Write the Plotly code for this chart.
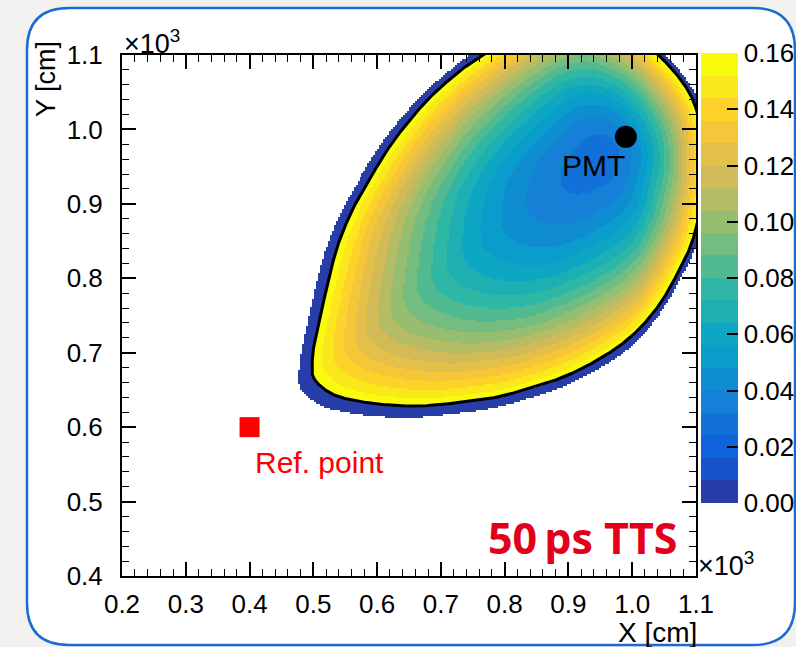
import numpy as np
import plotly.graph_objects as go

# ---------------------------------------------------------------------------
# Data (coordinates in units of 10^3 cm)
# ---------------------------------------------------------------------------
PMT_X = [0.99]
PMT_Y = [0.99]
REF_X = [0.40]
REF_Y = [0.60]

# Minimum of the resolution map and the colour-scale range
MAP_CENTER_X = 0.955
MAP_CENTER_Y = 0.965
MAP_MIN_VALUE = 0.028
MAP_MAX_VALUE = 0.16
MAP_EXPONENT = 1.85
SHAPE_EXPONENT = 1.0        # how fast the levels take the outer contour shape
UNDERFLOW_RING = 1.045      # relative width of the ring drawn below the scale

# Outer 0.16 contour (closed, counter-clockwise)
BOUNDARY_X = [1.113, 1.0964, 1.0446, 0.980, 0.900, 0.7652, 0.7259, 0.6835,
              0.6474, 0.6160, 0.5846, 0.5611, 0.5375, 0.5155, 0.4998, 0.4983,
              0.4998, 0.5265, 0.5783, 0.6600, 0.7353, 0.7887, 0.8405, 0.8923,
              0.9457, 0.9975, 1.0399, 1.0713, 1.0964]
BOUNDARY_Y = [0.945, 1.0369, 1.0973, 1.140, 1.160, 1.1000, 1.0758, 1.0436,
              1.0086, 0.9724, 0.9280, 0.8917, 0.8420, 0.7668, 0.7037, 0.6902,
              0.6674, 0.6459, 0.6338, 0.6284, 0.6338, 0.6405, 0.6526, 0.6674,
              0.6902, 0.7211, 0.7614, 0.8071, 0.8555]

X_TICKS = [0.2, 0.3, 0.4, 0.5, 0.6, 0.7, 0.8, 0.9, 1.0, 1.1]
Y_TICKS = [0.4, 0.5, 0.6, 0.7, 0.8, 0.9, 1.0, 1.1]
Z_TICKS = [0.00, 0.02, 0.04, 0.06, 0.08, 0.10, 0.12, 0.14, 0.16]
N_LEVELS = 20

# ---------------------------------------------------------------------------
# ROOT "kBird" palette, stepped into N_LEVELS contour colours
# ---------------------------------------------------------------------------
BIRD_STOPS = [0.0, 0.125, 0.25, 0.375, 0.5, 0.625, 0.75, 0.875, 1.0]
BIRD_R = [0.2082, 0.0592, 0.0780, 0.0232, 0.1802, 0.5301, 0.8186, 0.9956, 0.9764]
BIRD_G = [0.1664, 0.3599, 0.5041, 0.6419, 0.7178, 0.7492, 0.7328, 0.7862, 0.9832]
BIRD_B = [0.5293, 0.8684, 0.8385, 0.7914, 0.6425, 0.4662, 0.3499, 0.1968, 0.0539]


def bird(f):
    r = np.interp(f, BIRD_STOPS, BIRD_R)
    g = np.interp(f, BIRD_STOPS, BIRD_G)
    b = np.interp(f, BIRD_STOPS, BIRD_B)
    return "rgb(%d,%d,%d)" % (round(r * 255), round(g * 255), round(b * 255))


colorscale = []
for i in range(N_LEVELS):
    idx = int((i + 0.99) * 255 / N_LEVELS)
    col = bird(min(idx, 254) / 254.0)
    colorscale.append([i / N_LEVELS, col])
    colorscale.append([(i + 1) / N_LEVELS, col])


# ---------------------------------------------------------------------------
# Smooth closed contour (centripetal Catmull-Rom) and its polar radius
# ---------------------------------------------------------------------------
def catmull_rom_closed(xs, ys, n_per=60, alpha=0.5):
    P = np.column_stack([xs, ys]).astype(float)
    N = len(P)
    out = []
    for i in range(N):
        p0, p1, p2, p3 = P[(i - 1) % N], P[i], P[(i + 1) % N], P[(i + 2) % N]
        t0 = 0.0
        t1 = t0 + np.linalg.norm(p1 - p0) ** alpha
        t2 = t1 + np.linalg.norm(p2 - p1) ** alpha
        t3 = t2 + np.linalg.norm(p3 - p2) ** alpha
        t = np.linspace(t1, t2, n_per, endpoint=False)[:, None]
        a1 = (t1 - t) / (t1 - t0) * p0 + (t - t0) / (t1 - t0) * p1
        a2 = (t2 - t) / (t2 - t1) * p1 + (t - t1) / (t2 - t1) * p2
        a3 = (t3 - t) / (t3 - t2) * p2 + (t - t2) / (t3 - t2) * p3
        b1 = (t2 - t) / (t2 - t0) * a1 + (t - t0) / (t2 - t0) * a2
        b2 = (t3 - t) / (t3 - t1) * a2 + (t - t1) / (t3 - t1) * a3
        out.append((t2 - t) / (t2 - t1) * b1 + (t - t1) / (t2 - t1) * b2)
    c = np.vstack(out)
    return np.append(c[:, 0], c[0, 0]), np.append(c[:, 1], c[0, 1])


cx, cy = catmull_rom_closed(BOUNDARY_X, BOUNDARY_Y)
c_theta = np.degrees(np.arctan2(cy - MAP_CENTER_Y, cx - MAP_CENTER_X)) % 360
c_rad = np.hypot(cx - MAP_CENTER_X, cy - MAP_CENTER_Y)
order = np.argsort(c_theta)
c_theta, c_rad = c_theta[order], c_rad[order]


def contour_radius(theta_deg):
    return np.interp(np.mod(theta_deg, 360), c_theta, c_rad, period=360)


# Low-pass version of the contour: shape of the innermost levels
theta_u = np.arange(0.0, 360.0, 0.5)
spec = np.fft.rfft(contour_radius(theta_u))
spec[6:] = 0.0
smooth_u = np.fft.irfft(spec, n=theta_u.size)


def smooth_radius(theta_deg):
    return np.interp(np.mod(theta_deg, 360), theta_u, smooth_u, period=360)


# ---------------------------------------------------------------------------
# 2D map on a fine binning: level s has radius s*[(1-s^k) Rin + s^k Rout]
# ---------------------------------------------------------------------------
NX, NY = 290, 260
xe = np.linspace(X_TICKS[0], X_TICKS[-1], NX + 1)
ye = np.linspace(Y_TICKS[0], Y_TICKS[-1], NY + 1)
xc = 0.5 * (xe[:-1] + xe[1:])
yc = 0.5 * (ye[:-1] + ye[1:])
XX, YY = np.meshgrid(xc, yc)
dx = XX - MAP_CENTER_X
dy = YY - MAP_CENTER_Y
rr = np.hypot(dx, dy)
th = np.degrees(np.arctan2(dy, dx))
r_out = contour_radius(th)
r_in = smooth_radius(th)
q_outer = rr / r_out

lo = np.zeros_like(rr)
hi = np.ones_like(rr)
for _ in range(40):
    mid = 0.5 * (lo + hi)
    sk = mid ** SHAPE_EXPONENT
    f = mid * ((1 - sk) * r_in + sk * r_out) - rr
    lo = np.where(f < 0, mid, lo)
    hi = np.where(f < 0, hi, mid)
s_level = 0.5 * (lo + hi)

zmap = np.full(rr.shape, np.nan)
inside = q_outer <= 1.0
zmap[inside] = MAP_MIN_VALUE + (MAP_MAX_VALUE - MAP_MIN_VALUE) * \
    s_level[inside] ** MAP_EXPONENT
ring = (q_outer > 1.0) & (q_outer <= UNDERFLOW_RING)
zmap[ring] = 0.0

# ---------------------------------------------------------------------------
# Figure
# ---------------------------------------------------------------------------
W, H = 796, 647
PL, PR, PT, PB = 122, 696, 55, 576          # plot frame in pixels
FONT = "Liberation Sans, Arial, Helvetica, sans-serif"


def px(xp):
    return (xp - PL) / (PR - PL)


def py(yp):
    return (PB - yp) / (PB - PT)


fig = go.Figure()

fig.add_trace(go.Heatmap(
    x=xc, y=yc, z=zmap,
    zmin=0.0, zmax=MAP_MAX_VALUE,
    colorscale=colorscale,
    zsmooth=False,
    hoverinfo="skip",
    colorbar=dict(
        x=px(701), xanchor="left", xpad=0,
        y=py(53), yanchor="top", ypad=0,
        lenmode="pixels", len=450,
        thicknessmode="pixels", thickness=37,
        outlinewidth=0,
        tickmode="array", tickvals=Z_TICKS,
        ticktext=["%.2f" % v for v in Z_TICKS],
        ticks="inside", ticklen=11, tickwidth=1.5, tickcolor="black",
        tickfont=dict(family=FONT, size=26, color="black"),
    ),
))

fig.add_trace(go.Scatter(
    x=cx, y=cy, mode="lines",
    line=dict(color="black", width=3),
    hoverinfo="skip", showlegend=False,
))

fig.add_trace(go.Scatter(
    x=PMT_X, y=PMT_Y, mode="markers",
    marker=dict(symbol="circle", size=22, color="black"),
    showlegend=False, hoverinfo="skip",
))

fig.add_trace(go.Scatter(
    x=REF_X, y=REF_Y, mode="markers",
    marker=dict(symbol="square", size=20, color="#ff0000"),
    showlegend=False, hoverinfo="skip",
))

axis_common = dict(
    ticks="inside", ticklen=14, tickwidth=1.5, tickcolor="black",
    showline=True, linewidth=2, linecolor="black", mirror="allticks",
    showgrid=False, zeroline=False,
    tickformat=".1f",
    tickfont=dict(family=FONT, size=26, color="black"),
)

fig.update_xaxes(
    range=[X_TICKS[0], X_TICKS[-1]],
    tickvals=X_TICKS,
    minor=dict(dtick=0.02, tick0=0.2, ticks="inside", ticklen=7,
               tickwidth=1, tickcolor="black"),
    ticklabelstandoff=4,
    **axis_common,
)
fig.update_yaxes(
    range=[Y_TICKS[0], Y_TICKS[-1]],
    tickvals=Y_TICKS,
    minor=dict(dtick=0.02, tick0=0.4, ticks="inside", ticklen=7,
               tickwidth=1, tickcolor="black"),
    ticklabelstandoff=12,
    **axis_common,
)

# Rounded panel behind the plot
L0, T0, R0, B0, RAD = 27, 8, 795, 645, 42
path = (
    f"M {px(L0 + RAD)},{py(T0)} L {px(R0 - RAD)},{py(T0)} "
    f"Q {px(R0)},{py(T0)} {px(R0)},{py(T0 + RAD)} "
    f"L {px(R0)},{py(B0 - RAD)} Q {px(R0)},{py(B0)} {px(R0 - RAD)},{py(B0)} "
    f"L {px(L0 + RAD)},{py(B0)} Q {px(L0)},{py(B0)} {px(L0)},{py(B0 - RAD)} "
    f"L {px(L0)},{py(T0 + RAD)} Q {px(L0)},{py(T0)} {px(L0 + RAD)},{py(T0)} Z"
)
fig.add_shape(type="path", path=path, xref="paper", yref="paper",
              fillcolor="white", line=dict(color="#1a6dcf", width=2.5),
              layer="below")

annotations = [
    dict(text="×10<sup>3</sup>", x=0.0, y=py(61), xanchor="left",
         yanchor="bottom", font=dict(family=FONT, size=27, color="black")),
    dict(text="×10<sup>3</sup>", x=px(696), y=py(583), xanchor="left",
         yanchor="bottom", font=dict(family=FONT, size=27, color="black")),
    dict(text="Y [cm]", x=px(46), y=py(39), xanchor="center", yanchor="top",
         textangle=-90, font=dict(family=FONT, size=27, color="black")),
    dict(text="X [cm]", x=px(699), y=py(632), xanchor="right",
         yanchor="middle", font=dict(family=FONT, size=28, color="black")),
    dict(text="PMT", x=0.939, y=0.951, xref="x", yref="y",
         xanchor="center", yanchor="middle",
         font=dict(family=FONT, size=30, color="black")),
    dict(text="Ref. point", x=0.509, y=0.552, xref="x", yref="y",
         xanchor="center", yanchor="middle",
         font=dict(family=FONT, size=30, color="#ff0000")),
    dict(text="<b>50\u2009ps TTS</b>", x=px(680), y=py(537),
         xanchor="right", yanchor="middle",
         font=dict(family="Open Sans, DejaVu Sans, sans-serif", size=43,
                   color="#e3001b")),
]
for a in annotations:
    a.setdefault("xref", "paper")
    a.setdefault("yref", "paper")
    a["showarrow"] = False
fig.update_layout(annotations=annotations)

fig.update_layout(
    width=W, height=H,
    margin=dict(l=PL, r=W - PR, t=PT, b=H - PB, autoexpand=False),
    paper_bgcolor="#f2f1f0",
    plot_bgcolor="white",
    showlegend=False,
)

fig.write_html("out.html")
